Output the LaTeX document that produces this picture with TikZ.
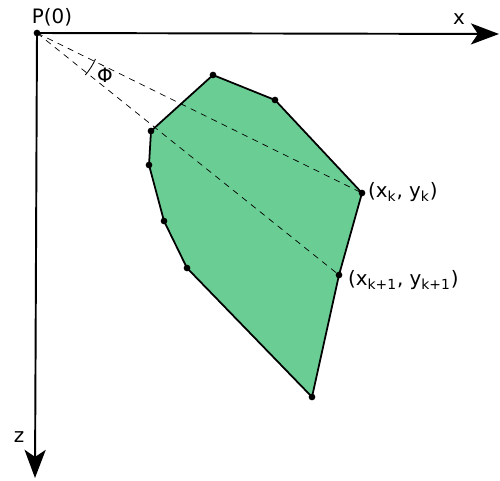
\documentclass[tikz,border=0pt]{standalone}
\usepackage{fontspec}
\setmainfont{DejaVu Sans}
\usetikzlibrary{arrows.meta}
\definecolor{hullgreen}{RGB}{106,206,148}
\begin{document}
\begin{tikzpicture}[x=0.02cm,y=-0.02cm, font=\fontsize{11.3}{13}\selectfont]
    \useasboundingbox (0,0) rectangle (500,480);
    \coordinate (p0) at (37,33);
    \coordinate (xend) at (499,34);
    \coordinate (zend) at (35,478);
    \coordinate (v1) at (213,75);
    \coordinate (v2) at (275,100);
    \coordinate (vk) at (362,193);
    \coordinate (vk1) at (339,275);
    \coordinate (v5) at (312,397);
    \coordinate (v6) at (187,268);
    \coordinate (v7) at (164,221);
    \coordinate (v8) at (149,165);
    \coordinate (v9) at (151,131);
    \fill[hullgreen] (v1) -- (v2) -- (vk) -- (vk1) -- (v5) -- (v6) -- (v7) -- (v8) -- (v9) -- cycle;
    \draw[line width=0.4pt, dash pattern=on 3.5pt off 3pt] (p0) -- (vk);
    \draw[line width=0.4pt, dash pattern=on 3.5pt off 3pt] (p0) -- (vk1);
    \draw[line width=1pt, line join=round] (v1) -- (v2) -- (vk) -- (vk1) -- (v5) -- (v6) -- (v7) -- (v8) -- (v9) -- cycle;
    \draw[-{Stealth[length=16pt, width=12pt, inset=4pt]}, line width=1.1pt] (p0) -- (xend);
    \draw[-{Stealth[length=16pt, width=12pt, inset=4pt]}, line width=1.1pt] (p0) -- (zend);
    \draw[line width=0.5pt] (p0) ++(24:64) arc[start angle=24, end angle=41, radius=64];
    \foreach \v in {p0,v1,v2,vk,vk1,v5,v6,v7,v8,v9}
        \fill (\v) circle (1.9pt);
    \node (plabel) at (52,17) {P(0)};
    \node (xlabel) at (459,19) {x};
    \node (zlabel) at (19,437) {z};
    \node (philabel) at (105,75) {Φ};
    \node[anchor=west, inner sep=1pt] (klabel) at (366,192) {(x\textsubscript{k}, y\textsubscript{k})};
    \node[anchor=west, inner sep=1pt] (k1label) at (346,280) {(x\textsubscript{k+1}, y\textsubscript{k+1})};
\end{tikzpicture}
\end{document}
